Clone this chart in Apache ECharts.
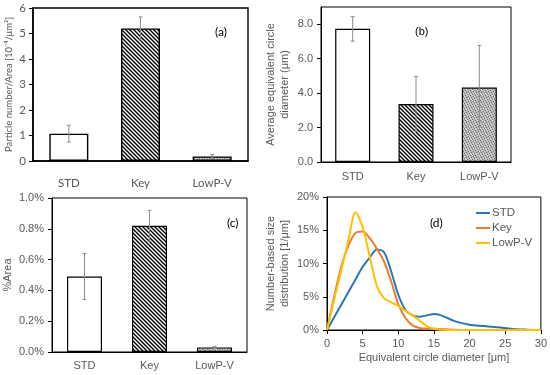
<!DOCTYPE html>
<html>
<head>
<meta charset="utf-8">
<script src="https://cdn.jsdelivr.net/npm/echarts@6/dist/echarts.min.js"></script>
<style>html,body{margin:0;padding:0;background:#fff}#c{width:550px;height:375px}</style>
</head>
<body>
<div id="c"></div>
<script>
// ---- data ----
var categories = ['STD', 'Key', 'LowP-V'];
var particleNumber = [1.07, 5.2, 0.18];
var particleNumberErr = [0.33, 0.45, 0.07];
var avgDiameter = [7.73, 3.37, 4.32];
var avgDiameterErr = [0.71, 1.6, 2.45];
var areaPct = [0.49, 0.82, 0.03];
var areaPctErr = [0.15, 0.10, 0.007];
var sizeX = [0,1,2,3,4,5,6,7,8,9,10,11,12,13,14,15,16,18,20,22,24,26,28,30];
var distSTD = [0,1.9,3.8,5.7,7.6,9.5,10.9,12.1,11.7,8.8,5.3,3.0,2.2,2.0,2.2,2.4,2.2,1.3,0.8,0.6,0.4,0.15,0.05,0];
var distKey = [0,5.0,9.5,12.7,14.6,14.8,13.8,12.2,10.3,7.3,3.9,1.8,0.7,0.3,0.2,0.2,0.15,0.05,0,0,0,0,0,0];
var distLowPV = [0,4.5,9.0,13.5,17.7,15.5,11.0,6.6,4.8,4.2,3.6,2.9,2.2,1.4,0.6,0.2,0.05,0,0,0,0,0,0,0];
var yTicksB = [0,2,4,6,8];

// ---- fill patterns ----
function hatch() {
  var s = 4, c = document.createElement('canvas'); c.width = s; c.height = s;
  var g = c.getContext('2d'); g.fillStyle = '#fff'; g.fillRect(0,0,s,s);
  g.strokeStyle = '#000'; g.lineWidth = 1.4;
  g.beginPath();
  g.moveTo(-1,-1); g.lineTo(s+1,s+1);
  g.moveTo(-1,s-1); g.lineTo(1,s+1);
  g.moveTo(s-1,-1); g.lineTo(s+1,1);
  g.stroke();
  return {image: c, repeat: 'repeat'};
}
function dots() {
  var s = 5, c = document.createElement('canvas'); c.width = s; c.height = s;
  var g = c.getContext('2d'); g.fillStyle = '#b4b4b4'; g.fillRect(0,0,s,s);
  g.fillStyle = '#6a6a6a';
  [[0,0],[3,1],[1,2],[4,3],[2,4]].forEach(function(p){ g.fillRect(p[0],p[1],1,1); });
  g.fillStyle = '#e4e4e4';
  [[2,0],[0,3],[3,3],[4,1],[1,4]].forEach(function(p){ g.fillRect(p[0],p[1],1,1); });
  return {image: c, repeat: 'repeat'};
}
var fills = ['#ffffff', hatch(), dots()];

var gray = '#595959';
var calib = 'Lato, "Open Sans", sans-serif';
var arial = '"Liberation Sans", Arial, sans-serif';

function barSeries(vals, gi, bw, bwid) {
  return {
    type: 'bar', xAxisIndex: gi, yAxisIndex: gi, barWidth: bw,
    data: vals.map(function(v, i){ return {value: v, itemStyle: {color: fills[i]}}; }),
    itemStyle: {borderColor: '#000', borderWidth: bwid},
    silent: true, z: 2
  };
}
function errSeries(vals, errs, gi) {
  return {
    type: 'custom', xAxisIndex: gi, yAxisIndex: gi, z: 5, silent: true,
    data: vals.map(function(v, i){ return [i, v - errs[i], v + errs[i]]; }),
    renderItem: function(params, api) {
      var lo = api.coord([api.value(0), api.value(1)]);
      var hi = api.coord([api.value(0), api.value(2)]);
      var st = {stroke: '#8c8c8c', lineWidth: 1};
      return {type: 'group', children: [
        {type: 'line', shape: {x1: lo[0], y1: lo[1], x2: hi[0], y2: hi[1]}, style: st},
        {type: 'line', shape: {x1: lo[0]-2, y1: lo[1], x2: lo[0]+2, y2: lo[1]}, style: st},
        {type: 'line', shape: {x1: hi[0]-2, y1: hi[1], x2: hi[0]+2, y2: hi[1]}, style: st}
      ]};
    }
  };
}
function pairs(ys) { return sizeX.map(function(x, i){ return [x, ys[i]]; }); }

var gridBase = {show: true, borderColor: '#000', borderWidth: 1, containLabel: false};
var option = {
  animation: false,
  backgroundColor: '#fff',
  grid: [
    Object.assign({}, gridBase, {left: 33, top: 8, width: 215, height: 153, borderWidth: 1.4}),
    Object.assign({}, gridBase, {left: 321, top: 7, width: 190, height: 155}),
    Object.assign({}, gridBase, {left: 52, top: 198, width: 195, height: 154}),
    Object.assign({}, gridBase, {left: 327, top: 197, width: 214, height: 133})
  ],
  title: [
    {text: '(a)', left: 210, top: 21, textStyle: {fontFamily: calib, fontSize: 12, fontWeight: 'normal', color: '#000'}},
    {text: '(b)', left: 410, top: 21, textStyle: {fontFamily: arial, fontSize: 11, fontWeight: 'normal', color: '#000'}},
    {text: '(c)', left: 222, top: 212, textStyle: {fontFamily: calib, fontSize: 12, fontWeight: 'normal', color: '#000'}},
    {text: '(d)', left: 425, top: 212, textStyle: {fontFamily: calib, fontSize: 12, fontWeight: 'normal', color: '#000'}}
  ],
  legend: {
    orient: 'vertical', left: 476, top: 207, padding: 0, itemGap: 3,
    itemWidth: 14, itemHeight: 2, icon: 'rect',
    data: ['STD', 'Key', 'LowP-V'],
    textStyle: {fontFamily: arial, fontSize: 11.5, color: gray, padding: [0,0,0,-3]}
  },
  xAxis: [
    {type: 'category', gridIndex: 0, data: categories,
     axisLine: {lineStyle: {color: '#000', width: 1.5}}, axisTick: {show: false},
     axisLabel: {margin: 16, color: gray, fontFamily: calib, fontSize: 11.5}},
    {type: 'category', gridIndex: 1, data: categories,
     axisLine: {lineStyle: {color: '#000', width: 1}}, axisTick: {show: false},
     axisLabel: {margin: 9, color: gray, fontFamily: arial, fontSize: 11}},
    {type: 'category', gridIndex: 2, data: categories,
     axisLine: {lineStyle: {color: '#000', width: 1}}, axisTick: {show: false},
     axisLabel: {margin: 8, color: gray, fontFamily: arial, fontSize: 11}},
    {type: 'value', gridIndex: 3, min: 0, max: 30, interval: 5, splitLine: {show: false},
     axisLine: {lineStyle: {color: '#000', width: 1}},
     axisTick: {show: true, length: 4, lineStyle: {color: '#000'}},
     axisLabel: {margin: 8, color: gray, fontFamily: arial, fontSize: 11},
     name: 'Equivalent circle diameter [μm]', nameLocation: 'middle', nameGap: 22,
     nameTextStyle: {color: gray, fontFamily: arial, fontSize: 11}}
  ],
  yAxis: [
    {type: 'value', gridIndex: 0, min: 0, max: 6, interval: 1, splitLine: {show: false},
     axisLine: {show: true, lineStyle: {color: '#000', width: 1.5}},
     axisTick: {show: true, length: 4, lineStyle: {color: '#000'}},
     axisLabel: {margin: 7, color: gray, fontFamily: calib, fontSize: 11.5},
     name: 'Particle number/Area [10⁻⁴/μm²]', nameLocation: 'middle', nameGap: 19,
     nameTextStyle: {color: gray, fontFamily: calib, fontSize: 9.5}},
    {type: 'value', gridIndex: 1, min: 0, max: 9, interval: 2, splitLine: {show: false},
     axisLine: {show: true, lineStyle: {color: '#000', width: 1}},
     axisTick: {show: true, length: 4, customValues: yTicksB, lineStyle: {color: '#000'}},
     axisLabel: {margin: 8, color: gray, fontFamily: arial, fontSize: 11, customValues: yTicksB,
       formatter: function(v){ return v.toFixed(1); }},
     name: 'Average equivalent circle\ndiameter (μm)', nameLocation: 'middle', nameGap: 29,
     nameTextStyle: {color: gray, fontFamily: arial, fontSize: 11, lineHeight: 14}},
    {type: 'value', gridIndex: 2, min: 0, max: 1.0, interval: 0.2, splitLine: {show: false},
     axisLine: {show: true, lineStyle: {color: '#000', width: 1}},
     axisTick: {show: true, length: 4, lineStyle: {color: '#000'}},
     axisLabel: {margin: 8, color: gray, fontFamily: arial, fontSize: 11,
       formatter: function(v){ return v.toFixed(1) + '%'; }},
     name: '%Area', nameLocation: 'middle', nameGap: 39,
     nameTextStyle: {color: gray, fontFamily: arial, fontSize: 11}},
    {type: 'value', gridIndex: 3, min: 0, max: 20, interval: 5, splitLine: {show: false},
     axisLine: {show: true, lineStyle: {color: '#000', width: 1}},
     axisTick: {show: true, length: 4, lineStyle: {color: '#000'}},
     axisLabel: {margin: 8, color: gray, fontFamily: arial, fontSize: 11,
       formatter: function(v){ return v + '%'; }},
     name: 'Number-based size\ndistribution [1/μm]', nameLocation: 'middle', nameGap: 35,
     nameTextStyle: {color: gray, fontFamily: arial, fontSize: 11, lineHeight: 14}}
  ],
  series: [
    barSeries(particleNumber, 0, 39, 1.4), errSeries(particleNumber, particleNumberErr, 0),
    barSeries(avgDiameter, 1, 35, 1.2), errSeries(avgDiameter, avgDiameterErr, 1),
    barSeries(areaPct, 2, 35, 1.2), errSeries(areaPct, areaPctErr, 2),
    {name: 'STD', type: 'line', xAxisIndex: 3, yAxisIndex: 3, data: pairs(distSTD), smooth: 0.3,
     showSymbol: false, lineStyle: {width: 2, color: '#2E75B6'}, itemStyle: {color: '#2E75B6'}, silent: true},
    {name: 'Key', type: 'line', xAxisIndex: 3, yAxisIndex: 3, data: pairs(distKey), smooth: 0.3,
     showSymbol: false, lineStyle: {width: 2, color: '#ED7D31'}, itemStyle: {color: '#ED7D31'}, silent: true},
    {name: 'LowP-V', type: 'line', xAxisIndex: 3, yAxisIndex: 3, data: pairs(distLowPV), smooth: 0.3,
     showSymbol: false, lineStyle: {width: 2, color: '#FFC000'}, itemStyle: {color: '#FFC000'}, silent: true}
  ]
};
var chart = echarts.init(document.getElementById('c'), null, {renderer: 'canvas'});
chart.setOption(option);
</script>
</body>
</html>
